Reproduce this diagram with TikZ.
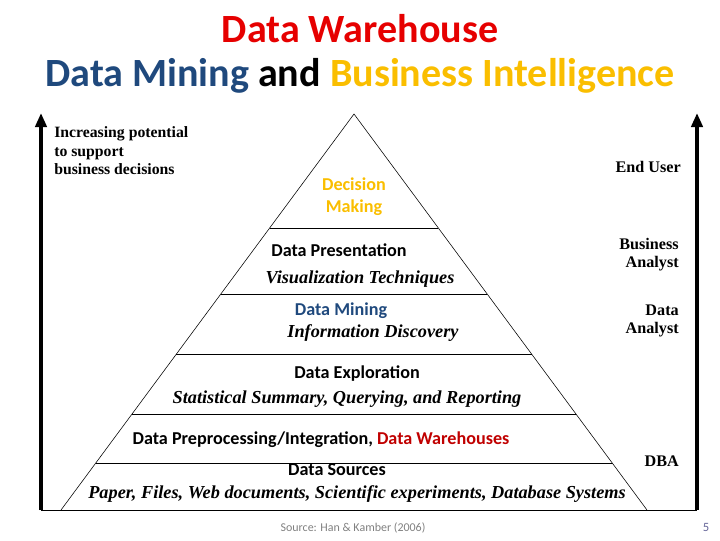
\documentclass[tikz,border=0pt]{standalone}
\usepackage{fontspec}
\setmainfont{Liberation Serif}
\setsansfont{Carlito}
\usetikzlibrary{arrows.meta, positioning, calc}
\definecolor{titlered}{RGB}{230,0,0}
\definecolor{darkblue}{RGB}{31,73,125}
\definecolor{gold}{RGB}{250,190,0}
\definecolor{darkred}{RGB}{192,0,0}

\begin{document}
\begin{tikzpicture}[
    x=0.025cm, y=-0.025cm,
    title/.style={font=\sffamily\bfseries\fontsize{28.5}{32}\selectfont, inner sep=0},
    layer/.style={font=\sffamily\bfseries\fontsize{12.9}{15.6}\selectfont, inner sep=0, align=center},
    method/.style={font=\rmfamily\bfseries\itshape\fontsize{13}{15}\selectfont, inner sep=0},
    role/.style={font=\rmfamily\bfseries\fontsize{11.5}{12.8}\selectfont, align=right, inner sep=0, anchor=east},
    axis/.style={-{Triangle[length=10pt, width=8pt]}, line width=3pt},
    >=Stealth
]
  \useasboundingbox (0,0) rectangle (720,540);

  % Title
  \node[title, titlered] (T1) at (360,29) {Data Warehouse};
  \node[title] (T2) at (360,76) {\textcolor{darkblue}{Data Mining} and \textcolor{gold}{Business Intelligence}};

  % Pyramid
  \coordinate (apex) at (354,114);
  \coordinate (BL) at (61,510);
  \coordinate (BR) at (647,510);
  \coordinate (L0) at (41,510);
  \coordinate (R0) at (697,510);
  \draw[thin] (BL) -- (apex) -- (BR);
  \draw (L0) -- (R0);
  \foreach \t in {0.288,0.455,0.606,0.758,0.881}{
    \draw ($(apex)!\t!(BL)$) -- ($(apex)!\t!(BR)$);
  }

  % Axes
  \coordinate (L1) at (41,113);
  \coordinate (R1) at (697,113);
  \draw[axis] (L0) -- (L1);
  \draw[axis] (R0) -- (R1);
  \node[font=\rmfamily\bfseries\fontsize{11.2}{13.4}\selectfont, align=left, anchor=north west, inner sep=0] (inc) at (54,126) {Increasing potential\\to support\\business decisions};

  % Layers
  \node[layer, gold] (dec) at (354,197) {Decision\\Making};
  \node[layer] (pres) at (339,250) {Data Presentation};
  \node[method] (vis) at (360,279) {Visualization Techniques};
  \node[layer, darkblue] (mine) at (341,311) {Data Mining};
  \node[method] (info) at (373,333) {Information Discovery};
  \node[layer] (expl) at (357,374) {Data Exploration};
  \node[method] (stat) at (347,399) {Statistical Summary, Querying, and Reporting};
  \node[layer] (prep) at (321,440) {Data Preprocessing/Integration, \textcolor{darkred}{Data Warehouses}};
  \node[layer] (src) at (337,470) {Data Sources};
  \node[method] (paper) at (357,494) {Paper, Files, Web documents, Scientific experiments, Database Systems};

  % Roles
  \node[role] (user) at (681,167) {End User};
  \node[role] (busi) at (679,255) {Business\\Analyst};
  \node[role] (dana) at (679,321) {Data\\Analyst};
  \node[role] (dba) at (679,461) {DBA};

  % Footer
  \node[font=\sffamily\fontsize{8.5}{10}\selectfont, gray, inner sep=0] (srcnote) at (353,528) {Source: Han \& Kamber (2006)};
  \node[font=\sffamily\fontsize{9}{10}\selectfont, gray!80!blue, inner sep=0] (page) at (706,527) {5};
\end{tikzpicture}
\end{document}
